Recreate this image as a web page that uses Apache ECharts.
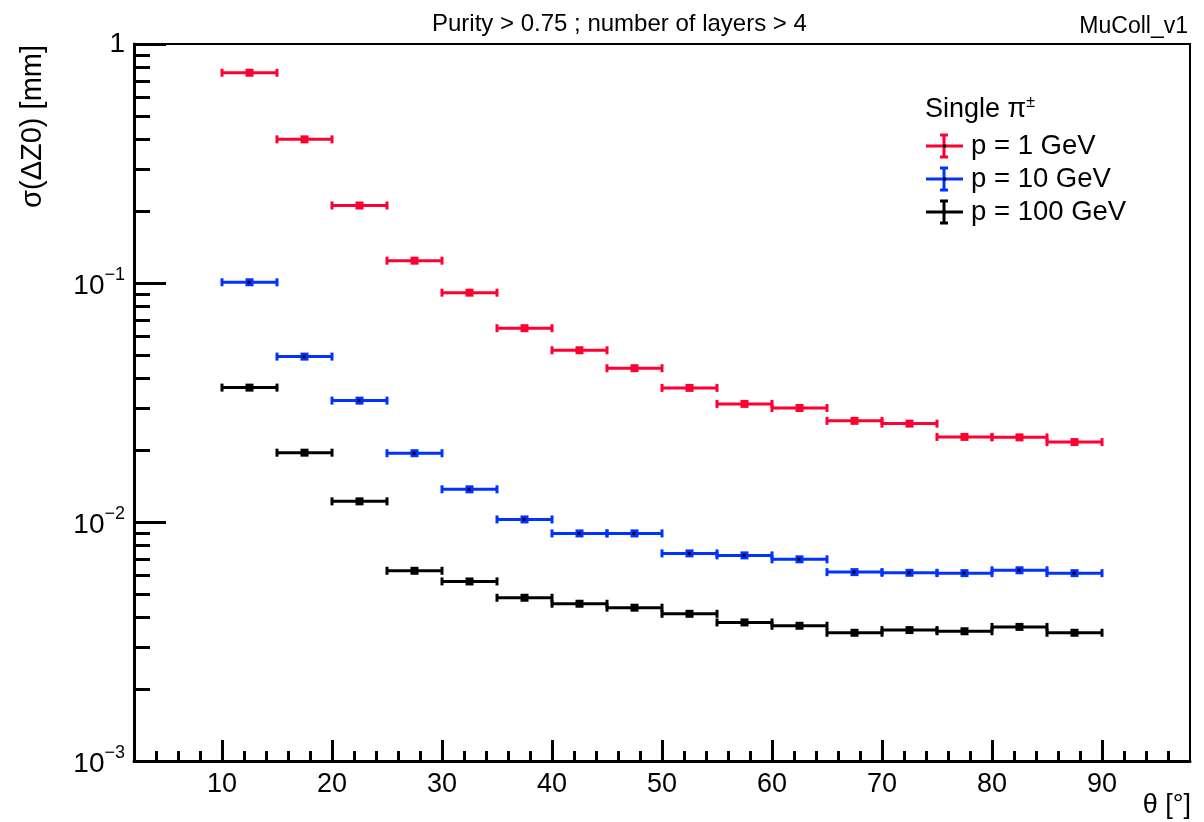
<!DOCTYPE html>
<html><head><meta charset="utf-8">
<script src="https://cdn.jsdelivr.net/npm/echarts@6/dist/echarts.min.js"></script>
<style>html,body{margin:0;padding:0;background:#fff}#c{width:1204px;height:822px}</style>
</head><body><div id="c"></div>
<script>
// ---- data ----
const binCenters = [12.5, 17.5, 22.5, 27.5, 32.5, 37.5, 42.5, 47.5, 52.5, 57.5, 62.5, 67.5, 72.5, 77.5, 82.5, 87.5];
const binHalfWidth = 2.5;
const sigmaP1   = [0.758, 0.399, 0.211, 0.124, 0.0911, 0.0647, 0.0523, 0.0440, 0.0364, 0.0312, 0.0300, 0.0265, 0.0258, 0.0227, 0.0226, 0.0216];
const sigmaP1Err = [0.027, 0.006, 0.003, 0.001, 0.0008, 0.0005, 0.0004, 0.0003, 0.0003, 0.0002, 0.0002, 0.0002, 0.0002, 0.0001, 0.0001, 0.0001];
const sigmaP10  = [0.1007, 0.0492, 0.0322, 0.0194, 0.0137, 0.01025, 0.00896, 0.00896, 0.00739, 0.00725, 0.00698, 0.00617, 0.00613, 0.00611, 0.00628, 0.00611];
const sigmaP100 = [0.0365, 0.0195, 0.0122, 0.00625, 0.00564, 0.00482, 0.00455, 0.00438, 0.00413, 0.00380, 0.00368, 0.00344, 0.00353, 0.00349, 0.00364, 0.00344];
const seriesNames = ['p = 1 GeV', 'p = 10 GeV', 'p = 100 GeV'];
const xMajorTicks = [10, 20, 30, 40, 50, 60, 70, 80, 90];
const xMinorTicks = [4, 6, 8, 12, 14, 16, 18, 22, 24, 26, 28, 32, 34, 36, 38, 42, 44, 46, 48, 52, 54, 56, 58, 62, 64, 66, 68, 72, 74, 76, 78, 82, 84, 86, 88, 92, 94, 96];
const yMajorTicks = [0.001, 0.01, 0.1, 1];
const yMinorTicks = [0.002, 0.003, 0.004, 0.005, 0.006, 0.007, 0.008, 0.009,
                     0.02, 0.03, 0.04, 0.05, 0.06, 0.07, 0.08, 0.09,
                     0.2, 0.3, 0.4, 0.5, 0.6, 0.7, 0.8, 0.9];
const titleText = 'Purity > 0.75 ; number of layers > 4';
const tagText = 'MuColl_v1';
const xTitle = 'θ [°]';
const yTitle = 'σ(ΔZ0) [mm]';
const legendHeader = 'Single π';

// ---- style ----
const FONT = '"Liberation Sans", Arial, Helvetica, sans-serif';
const colors = ['#ff0033', '#0033ff', '#000000'];
const G = {left: 134, right: 14, top: 44, bottom: 61};

function buildData(vals, errs) {
  return binCenters.map((c, i) => {
    const e = errs ? errs[i] : 0;
    return [c, vals[i], c - binHalfWidth, c + binHalfWidth, vals[i] - e, vals[i] + e];
  });
}

function makeRender(color, dot) {
  return function (params, api) {
    const xc = api.value(0), y = api.value(1), lo = api.value(2), hi = api.value(3);
    const yl = api.value(4), yh = api.value(5);
    const pC = api.coord([xc, y]);
    const pL = api.coord([lo, y]);
    const pH = api.coord([hi, y]);
    const ch = [
      {type: 'line', shape: {x1: pL[0], y1: pC[1], x2: pH[0], y2: pC[1]}, style: {stroke: color, lineWidth: 3}},
      {type: 'rect', shape: {x: pL[0] - 1.5, y: pC[1] - 4, width: 3, height: 8}, style: {fill: color}},
      {type: 'rect', shape: {x: pH[0] - 1.5, y: pC[1] - 4, width: 3, height: 8}, style: {fill: color}}
    ];
    if (yh > y) {
      const pLo = api.coord([xc, yl]);
      const pHi = api.coord([xc, yh]);
      if (pLo[1] - pC[1] > 4.5) {
        ch.push({type: 'line', shape: {x1: pC[0], y1: pHi[1], x2: pC[0], y2: pLo[1]}, style: {stroke: color, lineWidth: 3}});
        ch.push({type: 'rect', shape: {x: pC[0] - 4, y: pLo[1] - 1.5, width: 8, height: 3}, style: {fill: color}});
        ch.push({type: 'rect', shape: {x: pC[0] - 4, y: pHi[1] - 1.5, width: 8, height: 3}, style: {fill: color}});
      }
    }
    ch.push({type: 'rect', shape: {x: pC[0] - 4, y: pC[1] - 4, width: 8, height: 8}, style: {fill: color}});
    if (dot) ch.push({type: 'rect', shape: {x: pC[0] - 2, y: pC[1] - 1.5, width: 3, height: 3}, style: {fill: '#000'}});
    return {type: 'group', children: ch};
  };
}

function yLabel(v) {
  const e = Math.round(Math.log10(v));
  if (e === 0) return '{b|1}';
  return '{b|10}{s|−' + (-e) + '}';
}

const legendY = [146, 179, 212];
const legendGraphics = [];
legendGraphics.push({
  type: 'text', left: 925, top: 95,
  style: {
    text: '{a|' + legendHeader + '}{s|±}',
    rich: {a: {fontSize: 27, fontFamily: FONT, fill: '#000', verticalAlign: 'bottom'},
           s: {fontSize: 16, fontFamily: FONT, fill: '#000', verticalAlign: 'bottom', padding: [0, 0, 12, 0]}}
  }
});
seriesNames.forEach((n, i) => {
  const y = legendY[i], c = colors[i];
  legendGraphics.push({type: 'line', shape: {x1: 926, y1: y, x2: 963, y2: y}, style: {stroke: c, lineWidth: 3}});
  legendGraphics.push({type: 'line', shape: {x1: 944, y1: y - 11, x2: 944, y2: y + 11}, style: {stroke: c, lineWidth: 3}});
  legendGraphics.push({type: 'line', shape: {x1: 940, y1: y - 11, x2: 948, y2: y - 11}, style: {stroke: c, lineWidth: 3}});
  legendGraphics.push({type: 'line', shape: {x1: 940, y1: y + 11, x2: 948, y2: y + 11}, style: {stroke: c, lineWidth: 3}});
  legendGraphics.push({type: 'rect', shape: {x: 943, y: y - 1.5, width: 3, height: 3}, style: {fill: '#000'}});
  legendGraphics.push({type: 'text', x: 971, y: y, style: {text: n, font: '27.5px ' + FONT, fill: '#000', verticalAlign: 'middle', align: 'left'}});
});

const chart = echarts.init(document.getElementById('c'), null, {renderer: 'canvas'});
chart.setOption({
  backgroundColor: '#fff',
  animation: false,
  title: [
    {text: titleText, left: 427, top: 7, textStyle: {fontFamily: FONT, fontSize: 24, fontWeight: 'normal', color: '#000'}},
    {text: tagText, right: 11, top: 10, textStyle: {fontFamily: FONT, fontSize: 23, fontWeight: 'normal', color: '#000'}}
  ],
  grid: {left: G.left, right: G.right, top: G.top, bottom: G.bottom, show: true, borderColor: '#000', borderWidth: 2, containLabel: false},
  xAxis: [
    {type: 'value', min: 2, max: 98, position: 'bottom',
     axisLine: {show: true, lineStyle: {color: '#000', width: 3}},
     axisTick: {show: true, inside: true, length: 21, lineStyle: {color: '#000', width: 3}, customValues: xMajorTicks},
     axisLabel: {show: true, customValues: xMajorTicks, color: '#000', fontSize: 27, fontFamily: FONT, margin: 10},
     splitLine: {show: false}},
    {type: 'value', min: 2, max: 98, position: 'bottom',
     axisLine: {show: false},
     axisTick: {show: true, inside: true, length: 10, lineStyle: {color: '#000', width: 3}, customValues: xMinorTicks},
     axisLabel: {show: false},
     splitLine: {show: false}}
  ],
  yAxis: [
    {type: 'log', logBase: 10, min: 0.001, max: 1, position: 'left',
     axisLine: {show: true, lineStyle: {color: '#000', width: 3}},
     axisTick: {show: true, inside: true, length: 32, lineStyle: {color: '#000', width: 3}, customValues: yMajorTicks},
     axisLabel: {show: true, customValues: yMajorTicks, formatter: yLabel, margin: 9,
       rich: {b: {fontSize: 28, fontFamily: FONT, color: '#000', verticalAlign: 'bottom'},
              s: {fontSize: 18, fontFamily: FONT, color: '#000', verticalAlign: 'bottom', padding: [0, 0, 16, 0]}}},
     splitLine: {show: false}},
    {type: 'log', logBase: 10, min: 0.001, max: 1, position: 'left',
     axisLine: {show: false},
     axisTick: {show: true, inside: true, length: 16, lineStyle: {color: '#000', width: 3}, customValues: yMinorTicks},
     axisLabel: {show: false},
     splitLine: {show: false}}
  ],
  graphic: [
    {type: 'text', x: 33, y: 45, rotation: Math.PI / 2,
     style: {text: yTitle, font: '29px ' + FONT, fill: '#000', align: 'right', verticalAlign: 'middle'}},
    {type: 'text', x: 1191, y: 806,
     style: {text: xTitle, font: '27px ' + FONT, fill: '#000', align: 'right', verticalAlign: 'middle'}}
  ].concat(legendGraphics),
  series: [
    {name: seriesNames[0], type: 'custom', xAxisIndex: 0, yAxisIndex: 0, renderItem: makeRender(colors[0], false), data: buildData(sigmaP1, sigmaP1Err), encode: {x: [0, 2, 3], y: [1, 4, 5]}, z: 3},
    {name: seriesNames[1], type: 'custom', xAxisIndex: 0, yAxisIndex: 0, renderItem: makeRender(colors[1], true), data: buildData(sigmaP10, null), encode: {x: [0, 2, 3], y: [1, 4, 5]}, z: 2},
    {name: seriesNames[2], type: 'custom', xAxisIndex: 0, yAxisIndex: 0, renderItem: makeRender(colors[2], false), data: buildData(sigmaP100, null), encode: {x: [0, 2, 3], y: [1, 4, 5]}, z: 1}
  ]
});
</script>
</body></html>
